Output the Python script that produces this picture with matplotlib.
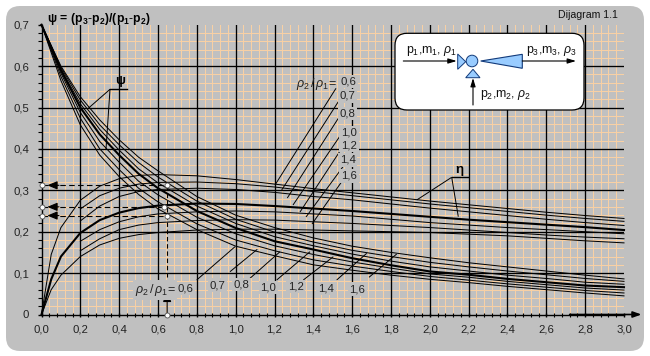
import matplotlib
matplotlib.use("Agg")
import matplotlib.pyplot as plt
from matplotlib.patches import FancyBboxPatch, Polygon, Circle

plt.rcParams['font.family'] = ['Liberation Sans', 'DejaVu Sans']
plt.rcParams['mathtext.fontset'] = 'custom'
plt.rcParams['mathtext.rm'] = 'Liberation Sans'
plt.rcParams['mathtext.it'] = 'Liberation Sans:italic'
plt.rcParams['mathtext.bf'] = 'Liberation Sans:bold'

# ---- data ----
psi_x = [0, .1, .2, .3, .4, .5, .6, .8, 1, 1.2, 1.4, 1.6, 1.8, 2, 2.2, 2.4, 2.6, 2.8, 3]
psi_06 = [.7, .565, .458, .385, .333, .29, .255, .205, .165, .142, .12, .107, .095, .085, .077, .068, .06, .052, .045]
psi_07 = [.7, .575, .474, .400, .350, .305, .272, .219, .180, .154, .132, .117, .104, .092, .083, .074, .066, .058, .052]
psi_08 = [.7, .583, .488, .418, .368, .322, .289, .235, .195, .166, .145, .127, .112, .098, .090, .080, .072, .064, .059]
psi_10 = [.7, .59, .5, .435, .385, .34, .305, .25, .209, .177, .157, .136, .119, .104, .096, .086, .078, .07, .066]
psi_12 = [.7, .593, .509, .447, .397, .352, .318, .262, .220, .188, .166, .146, .129, .115, .105, .095, .087, .078, .073]
psi_14 = [.7, .597, .518, .458, .410, .367, .332, .274, .230, .199, .175, .155, .140, .126, .115, .105, .096, .087, .080]
psi_16 = [.7, .60, .526, .47, .422, .38, .347, .285, .24, .21, .185, .165, .15, .137, .125, .115, .105, .095, .086]

eta_x_full = [0, .05, .1, .2, .3, .4, .5, .6, .8, 1, 1.2, 1.4, 1.6, 1.8, 2, 2.2, 2.4, 2.6, 2.8, 3]
eta_x_part = [.2, .3, .4, .5, .6, .8, 1, 1.2, 1.4, 1.6, 1.8, 2, 2.2, 2.4, 2.6, 2.8, 3]
eta_06 = [0, .145, .21, .276, .31, .328, .336, .338, .335, .326, .315, .304, .294, .284, .274, .265, .256, .247, .239, .232]
eta_07 = [.255, .287, .305, .315, .319, .320, .316, .308, .297, .287, .277, .267, .258, .249, .240, .232, .225]
eta_08 = [.226, .262, .285, .297, .302, .305, .302, .295, .285, .277, .267, .257, .248, .239, .230, .222, .215]
eta_10 = [0, .085, .14, .197, .228, .246, .257, .263, .268, .267, .262, .256, .25, .243, .236, .229, .223, .217, .211, .204]
eta_12 = [.177, .205, .224, .236, .243, .248, .250, .248, .243, .238, .230, .222, .216, .210, .205, .200, .195]
eta_14 = [.154, .183, .205, .216, .222, .227, .229, .228, .224, .220, .215, .210, .204, .198, .192, .187, .183]
eta_16 = [0, .06, .095, .14, .168, .184, .193, .198, .204, .206, .206, .204, .202, .2, .198, .194, .19, .184, .178, .173]

x_labels = ['0,0', '0,2', '0,4', '0,6', '0,8', '1,0', '1,2', '1,4', '1,6', '1,8', '2,0', '2,2', '2,4', '2,6', '2,8', '3,0']
y_labels = ['0', '0,1', '0,2', '0,3', '0,4', '0,5', '0,6', '0,7']
ratio_labels = ['0,6', '0,7', '0,8', '1,0', '1,2', '1,4', '1,6']
read_x = [.647, .632, .647]
read_y = [.312, .26, .239]

W, H = 650, 356
GREY = '#C0C0C0'
ORANGE = '#F8D0A4'
x_ticks = [i / 5 for i in range(16)]
y_ticks = [i / 10 for i in range(8)]
x_minor = [i / 25 for i in range(76) if i % 5]
y_minor = [i / 50 for i in range(35) if i % 5]

fig = plt.figure(figsize=(W / 100, H / 100), dpi=100, facecolor='white')

# background panel
bg = fig.add_axes([0, 0, 1, 1], zorder=0)
bg.set_xlim(0, W); bg.set_ylim(H, 0); bg.axis('off')
bg.add_patch(FancyBboxPatch((6 + 14, 6 + 14), 638 - 28, 345 - 28,
                            boxstyle='round,pad=14,rounding_size=14', fc=GREY, ec='none'))

# main axes
L, R, T, B = 41.5, 624, 24.7, 314.5
ax = fig.add_axes([L / W, 1 - B / H, (R - L) / W, (B - T) / H], zorder=1)
ax.patch.set_alpha(0)
ax.set_xlim(0, 3); ax.set_ylim(0, .7)
for s in ('top', 'right'):
    ax.spines[s].set_visible(False)
for s in ('left', 'bottom'):
    ax.spines[s].set_linewidth(1.0)
ax.set_axisbelow(True)

ax.set_xticks(x_ticks, x_labels, fontsize=8.2, color='#222222')
ax.set_yticks(y_ticks, y_labels, fontsize=8.2, color='#222222')
ax.set_xticks(x_minor, minor=True)
ax.set_yticks(y_minor, minor=True)
ax.grid(which='minor', color=ORANGE, lw=0.72)
for v in x_ticks[1:-1]:
    ax.axvline(v, color='black', lw=0.95, zorder=2)
for v in y_ticks[1:-1]:
    ax.axhline(v, color='black', lw=0.95, zorder=2)
ax.axvline(x_ticks[-1], color=ORANGE, lw=0.72, zorder=1)
ax.tick_params(axis='x', which='major', length=3, width=1, direction='inout', pad=6)
ax.tick_params(axis='y', which='major', length=3, width=1, direction='out', pad=6)
ax.tick_params(axis='x', which='minor', length=3, width=0.8, direction='inout')
ax.tick_params(axis='y', which='minor', length=3, width=0.8, direction='out')

# curves
for ys in (psi_06, psi_07, psi_08, psi_12, psi_14, psi_16):
    ax.plot(psi_x, ys, color='black', lw=0.72, zorder=4, clip_on=False)
ax.plot(psi_x, psi_10, color='black', lw=1.5, zorder=4.5, clip_on=False)
for ys in (eta_06, eta_16):
    ax.plot(eta_x_full, ys, color='black', lw=0.72, zorder=4, clip_on=False)
for ys in (eta_07, eta_08, eta_12, eta_14):
    ax.plot(eta_x_part, ys, color='black', lw=0.72, zorder=4, clip_on=False)
ax.plot(eta_x_full, eta_10, color='black', lw=1.5, zorder=4.5, clip_on=False)

# reading aids
head = dict(arrowstyle='-|>,head_width=0.25,head_length=0.6', color='black', lw=0.8, shrinkA=0, shrinkB=0)
for rx, ry in zip(read_x, read_y):
    ax.plot([0, rx], [ry, ry], color='black', lw=0.8, ls=(0, (5, 3)), zorder=5)
    ax.annotate('', xy=(0.03, ry), xytext=(0.09, ry), arrowprops=head, zorder=6)
ax.plot([read_x[0], read_x[0]], [0.09, read_y[0]], color='black', lw=0.8, ls=(0, (4, 2.5)), zorder=5)
ax.annotate('', xy=(read_x[0], .055), xytext=(read_x[0], 0), arrowprops=head, zorder=6)
mk = dict(marker='o', ms=3.6, mfc='white', mec='#555555', mew=0.6, ls='none', zorder=7, clip_on=False)
ax.plot(read_x, read_y, **mk)
ax.plot([0, 0, 0], read_y, **mk)
ax.plot([read_x[0]], [0], **mk)
ax.annotate('', xy=(3.09, 0), xytext=(2.72, 0), annotation_clip=False,
            arrowprops=dict(arrowstyle='-|>,head_width=0.18,head_length=0.5',
                            color='black', lw=1.2, shrinkA=0, shrinkB=0))

# overlay in pixel coordinates
ov = fig.add_axes([0, 0, 1, 1], zorder=2)
ov.set_xlim(0, W); ov.set_ylim(H, 0); ov.axis('off'); ov.patch.set_alpha(0)

ov.text(47, 19, r'$\mathbf{ψ\,=\,(p_3\text{-}p_2)/(p_1\text{-}p_2)}$',
        fontsize=8.8, va='center', ha='left', color='black')
ov.text(558, 14.5, 'Dijagram 1.1', fontsize=7.6, va='center', ha='left', color='#111111')


def leader(p, q, lw=0.7):
    ov.plot([p[0], q[0]], [p[1], q[1]], color='black', lw=lw, solid_capstyle='butt')


# upper ratio labels
up_leaders = [((336, 88.3), (275, 185)), ((338.3, 101.7), (281.7, 190)), ((338.3, 118.3), (287.3, 198)),
              ((340, 136), (293, 205)), ((340.7, 150), (300, 212)), ((343, 166.7), (306, 217)),
              ((341.7, 181.7), (312, 224))]
for p, q in up_leaders:
    leader(p, q)
up_pos = [(348, 81.7), (347.7, 96), (347.7, 113.3), (349, 132.3), (349, 145), (347.7, 160), (349, 176)]
lab_box = dict(fc=GREY, ec='none', pad=1.2)
for (px, py), s in zip(up_pos, ratio_labels):
    ov.text(px, py, s, fontsize=8.2, ha='center', va='center', bbox=lab_box, color='#222222')
ov.text(316.5, 83.5, r'$\mathit{ρ_2\,/\,ρ_1}$=', fontsize=9, ha='center', va='center', color='#222222')

# lower ratio labels
lo_leaders = [((196.7, 280), (235, 246.7)), ((230, 271.7), (257.3, 249.3)), ((250, 278.3), (280, 251.7)),
              ((276.7, 280), (310, 251.7)), ((303.3, 280), (333.3, 256.7)), ((336.7, 280), (366.7, 253.3)),
              ((369, 277.3), (396.7, 254))]
for p, q in lo_leaders:
    leader(p, q)
lo_pos = [(185, 288.3), (217.3, 285), (241.7, 284.3), (268.3, 287.3), (295.7, 286.7), (326, 288.3), (357.3, 289)]
for (px, py), s in zip(lo_pos, ratio_labels):
    ov.text(px, py, s, fontsize=8.2, ha='center', va='center', bbox=lab_box, color='#222222')
ov.text(155, 290, r'$\mathit{ρ_2\,/\,ρ_1}$=', fontsize=9, ha='center', va='center', bbox=lab_box, color='#222222')

# psi and eta callouts
ov.plot([110, 126.7], [89.3, 89.3], color='black', lw=1.0)
leader((110, 89.3), (88.3, 108.3))
leader((110, 89.3), (106, 149.3))
ov.text(120, 81, 'ψ', fontsize=9.5, fontweight='bold', ha='center', va='center')
ov.plot([451.7, 468.3], [177.3, 177.3], color='black', lw=1.0)
leader((451.7, 177.3), (416.7, 200))
leader((451.7, 177.3), (458.3, 216.7))
ov.text(459, 169.5, 'η', fontsize=9.5, fontweight='bold', ha='center', va='center')

# flow diagram
BLUE = '#99CCFF'
NAVY = '#123a7a'
ov.add_patch(FancyBboxPatch((395 + 12, 33.3 + 12), 189 - 24, 76.7 - 24,
                            boxstyle='round,pad=12,rounding_size=12', fc='white', ec='black', lw=0.9, zorder=8))
ov.add_patch(Polygon([(457.7, 54), (457.7, 69.3), (465.7, 61.7)], fc=BLUE, ec=NAVY, lw=0.7, zorder=9))
ov.add_patch(Circle((472, 61), 5.8, fc=BLUE, ec=NAVY, lw=0.7, zorder=9))
ov.add_patch(Polygon([(465.7, 77.7), (480, 77.7), (473, 69.3)], fc=BLUE, ec=NAVY, lw=0.7, zorder=9))
ov.add_patch(Polygon([(480.7, 61), (522.3, 54.3), (522.3, 68.3)], fc=BLUE, ec=NAVY, lw=0.8, zorder=9))
arrow = dict(arrowstyle='-|>,head_width=0.15,head_length=0.5', color='black', lw=0.8, shrinkA=0, shrinkB=0)
ov.annotate('', xy=(456.7, 61), xytext=(403.3, 61), arrowprops=arrow, zorder=10)
ov.annotate('', xy=(473, 78), xytext=(473, 105), arrowprops=arrow, zorder=10)
ov.annotate('', xy=(576, 61), xytext=(522.3, 61), arrowprops=arrow, zorder=10)
ov.text(405.5, 50.5, r'p$_1$,m$_1$, $\mathit{ρ_1}$', fontsize=8.8, ha='left', va='center', zorder=10, color='#111111')
ov.text(525.7, 51.5, r'p$_3$,m$_3$, $\mathit{ρ_3}$', fontsize=8.8, ha='left', va='center', zorder=10, color='#111111')
ov.text(479.5, 95.5, r'p$_2$,m$_2$, $\mathit{ρ_2}$', fontsize=8.8, ha='left', va='center', zorder=10, color='#111111')

fig.savefig('out.png', dpi=100, facecolor='white')
